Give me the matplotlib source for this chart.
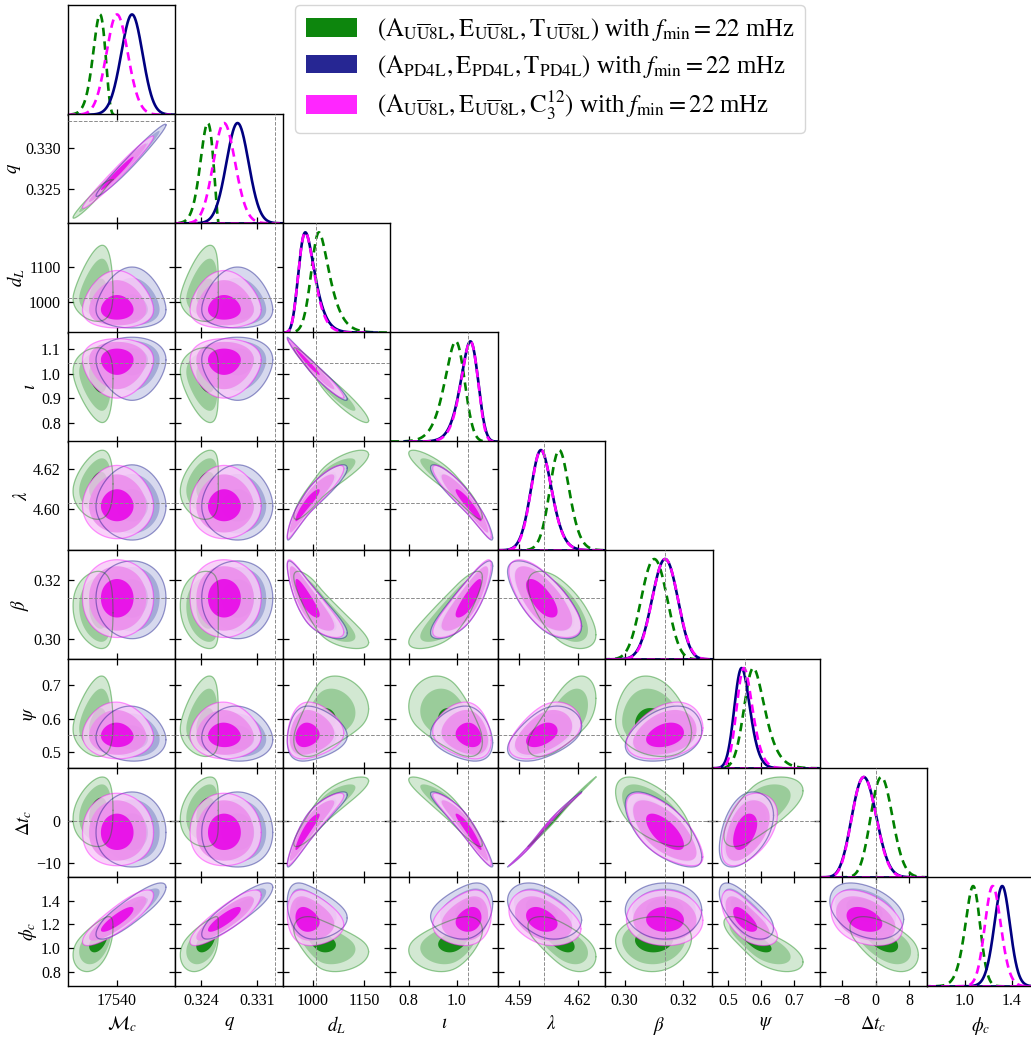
import matplotlib
matplotlib.use('Agg')
import matplotlib.pyplot as plt
from matplotlib.patches import Patch
import numpy as np

plt.rcParams['font.family'] = ['Liberation Serif', 'DejaVu Serif']
plt.rcParams['mathtext.fontset'] = 'stix'

W, H = 1031, 1039

names = [r'$\mathcal{M}_c$', r'$q$', r'$d_L$', r'$\iota$', r'$\lambda$', r'$\beta$', r'$\psi$', r'$\Delta t_c$', r'$\phi_c$']

# axis limits of each parameter
lim_lo = [17491, 0.32079, 912.9, 0.722, 4.5792, 0.2933, 0.4517, -13.3, 0.676]
lim_hi = [17598.5, 0.33421, 1224.6, 1.170, 4.6339, 0.32995, 0.7789, 12.3, 1.6]

# injected values, None where no line is drawn
truth = [None, 0.33329, 1010.5, 1.045, 4.603, 0.3137, 0.55, 0.0, None]

xticks = [[17540], [0.324, 0.331], [1000, 1150], [0.8, 1.0], [4.59, 4.62], [0.30, 0.32], [0.5, 0.6, 0.7], [-8, 0, 8], [1.0, 1.4]]
xticklabels = [['17540'], ['0.324', '0.331'], ['1000', '1150'], ['0.8', '1.0'], ['4.59', '4.62'], ['0.30', '0.32'], ['0.5', '0.6', '0.7'], ['\u22128', '0', '8'], ['1.0', '1.4']]
yticks = [[], [0.325, 0.330], [1000, 1100], [0.8, 0.9, 1.0, 1.1], [4.60, 4.62], [0.30, 0.32], [0.5, 0.6, 0.7], [-10, 0], [0.8, 1.0, 1.2, 1.4]]
yticklabels = [[], ['0.325', '0.330'], ['1000', '1100'], ['0.8', '0.9', '1.0', '1.1'], ['4.60', '4.62'], ['0.30', '0.32'], ['0.5', '0.6', '0.7'], ['\u221210', '0'], ['0.8', '1.0', '1.2', '1.4']]

# peak, width and outer contour extent of each parameter, read per series
mode_green = [17523.3, 0.32484, 1018, 0.996, 4.6106, 0.3101, 0.5765, 1.36, 1.07]
sd_green = [6.2, 0.00085, 22, 0.038, 0.0047, 0.0046, 0.028, 2.6, 0.06]
low_green = [17496.3, 0.32141, 945, 0.80, 4.5947, 0.2969, 0.487, -6.1, 0.80]
high_green = [17536.3, 0.32616, 1162, 1.107, 4.6293, 0.3228, 0.728, 10.2, 1.265]

mode_blue = [17555.3, 0.32856, 978.5, 1.057, 4.6013, 0.3138, 0.541, -2.8, 1.32]
sd_blue = [10.6, 0.00138, 21.5, 0.034, 0.005, 0.0045, 0.0226, 3.0, 0.065]
low_blue = [17519.3, 0.32409, 926, 0.891, 4.5843, 0.3002, 0.473, -10.9, 1.075]
high_blue = [17589.3, 0.33296, 1100, 1.15, 4.622, 0.3263, 0.638, 6.7, 1.55]

mode_magenta = [17540.3, 0.32688, 978.5, 1.057, 4.6013, 0.3138, 0.548, -2.8, 1.238]
sd_magenta = [10.7, 0.00135, 21.5, 0.034, 0.005, 0.0045, 0.0226, 3.0, 0.067]
low_magenta = [17505.8, 0.32263, 926, 0.90, 4.585, 0.3006, 0.48, -10.6, 1.02]
high_magenta = [17576.8, 0.3315, 1090, 1.144, 4.6217, 0.3267, 0.65, 6.4, 1.49]

# tilt of each panel, lower triangle by row
corr_green = [[0.98], [0.12, 0.12], [-0.12, -0.12, -0.97], [0.12, 0.12, 0.90, -0.93],
              [-0.08, -0.08, -0.83, 0.82, -0.62], [0.08, 0.08, 0.45, -0.50, 0.65, -0.20],
              [0.12, 0.12, 0.90, -0.93, 0.999, -0.62, 0.65],
              [0.55, 0.55, -0.45, 0.40, -0.60, 0.05, -0.75, -0.55]]
corr_blue = [[0.98], [0.0, 0.0], [0.0, 0.0, -0.98], [0.0, 0.0, 0.93, -0.94],
             [0.0, 0.0, -0.85, 0.84, -0.68], [-0.05, -0.05, 0.10, -0.18, 0.45, 0.30],
             [0.0, 0.0, 0.93, -0.95, 0.999, -0.68, 0.42],
             [0.85, 0.85, -0.30, 0.25, -0.38, 0.0, -0.65, -0.35]]
corr_magenta = [[0.98], [0.0, 0.0], [0.0, 0.0, -0.98], [0.0, 0.0, 0.93, -0.94],
                [0.0, 0.0, -0.85, 0.84, -0.68], [-0.03, -0.03, 0.12, -0.18, 0.45, 0.30],
                [0.0, 0.0, 0.93, -0.95, 0.999, -0.68, 0.45],
                [0.85, 0.85, -0.20, 0.20, -0.35, -0.02, -0.65, -0.35]]

series = [
    dict(mode=mode_green, sd=sd_green, low=low_green, high=high_green, corr=corr_green,
         fills=['#cae4ca', '#91c891', '#008000'], edge='#008000', line='green', ls=(0, (3.2, 2))),
    dict(mode=mode_blue, sd=sd_blue, low=low_blue, high=high_blue, corr=corr_blue,
         fills=['#d0d3eb', '#9ca2d3', '#19198c'], edge='#000080', line='navy', ls='-'),
    dict(mode=mode_magenta, sd=sd_magenta, low=low_magenta, high=high_magenta, corr=corr_magenta,
         fills=['#f9caf9', '#ec8bec', '#e800e8'], edge='#ff00ff', line='magenta', ls=(0, (3.2, 2))),
]

radii = [3.2, 2.6, 1.5]
R = radii[0]


def to_value(z, s, i):
    # z is in units of the peak width, stretched so z=+-R lands on the read extent
    m, sd = s['mode'][i], s['sd'][i]
    k_hi = (s['high'][i] - m) / (sd * R)
    k_lo = (m - s['low'][i]) / (sd * R)
    k = np.where(z > 0, k_hi, k_lo)
    return m + sd * z * (1 + (k - 1) * np.abs(z) / R)


def outline(s, ix, iy, r):
    t = np.linspace(0, 2 * np.pi, 240)
    rho = s['corr'][iy - 1][ix]
    zx = r * np.cos(t)
    zy = r * (rho * np.cos(t) + np.sqrt(1 - rho ** 2) * np.sin(t))
    return to_value(zx, s, ix), to_value(zy, s, iy)


# panel edges in pixels
left = [67.7, 175.3, 282.7, 390, 497.5, 605, 712.3, 819.7, 927.3]
top = [5.4, 114, 223.3, 332.3, 441, 550, 659, 768, 877]
pw, ph = 107.5, 109.3

fig = plt.figure(figsize=(W / 100, H / 100), dpi=100)
n = len(names)

for row in range(n):
    for col in range(row + 1):
        ax = fig.add_axes([left[col] / W, 1 - (top[row] + ph) / H, pw / W, ph / H])
        ax.set_xlim(lim_lo[col], lim_hi[col])
        ax.set_xticks(xticks[col])
        if row == col:
            z = np.linspace(-4.6, 4.6, 300)
            for s in series:
                ax.plot(to_value(z, s, col), np.exp(-z ** 2 / 2), color=s['line'], ls=s['ls'], lw=1.9)
                ax.plot([lim_lo[col], lim_hi[col]], [0, 0], color=s['line'], ls=s['ls'], lw=1.9)
            ax.set_ylim(0, 1.09)
            ax.set_yticks([])
            ax.tick_params(direction='in', length=4.5, width=0.9, top=False, right=False, left=False)
        else:
            ax.set_ylim(lim_lo[row], lim_hi[row])
            ax.set_yticks(yticks[row])
            ax.tick_params(direction='in', length=4.5, width=0.9, top=True, right=True)
            for s in series:
                for r, c in zip(radii, s['fills']):
                    x, y = outline(s, col, row, r)
                    ax.fill(x, y, color=c, alpha=0.85, lw=0, zorder=2)
            for s in series:
                x, y = outline(s, col, row, R)
                ax.plot(x, y, color=s['edge'], alpha=0.4, lw=0.9, zorder=3)
            if truth[row] is not None:
                ax.axhline(truth[row], color='#8c8c8c', ls='--', lw=0.7, zorder=4)
        if truth[col] is not None:
            ax.axvline(truth[col], color='#8c8c8c', ls='--', lw=0.7, zorder=4)
        for sp in ax.spines.values():
            sp.set_linewidth(1.0)
        if row == n - 1:
            ax.set_xticklabels(xticklabels[col], fontsize=11.5)
            ax.set_xlabel(names[col], fontsize=13.5)
            ax.xaxis.set_label_coords(0.5, -0.26)
            ax.tick_params(axis='x', pad=5)
        else:
            ax.set_xticklabels([])
        if col == 0 and row > 0:
            ax.set_yticklabels(yticklabels[row], fontsize=11.5)
            ax.set_ylabel(names[row], fontsize=13.5, labelpad=1.5)
            ax.tick_params(axis='y', pad=5)
        elif row != col:
            ax.set_yticklabels([])

handles = [Patch(facecolor='green', alpha=0.95), Patch(facecolor='navy', alpha=0.85), Patch(facecolor='magenta', alpha=0.85)]
labels = [r'$(\mathrm{A_{U\overline{U}8L},E_{U\overline{U}8L},T_{U\overline{U}8L}})$ with $f_{\mathrm{min}}=22$ mHz',
          r'$(\mathrm{A_{PD4L},E_{PD4L},T_{PD4L}})$ with $f_{\mathrm{min}}=22$ mHz',
          r'$(\mathrm{A_{U\overline{U}8L},E_{U\overline{U}8L},C_3^{12}})$ with $f_{\mathrm{min}}=22$ mHz']
fig.legend(handles, labels, loc='upper left', bbox_to_anchor=(295 / W, 1 - 5 / H), fontsize=17.8,
           handlelength=2.05, handleheight=0.77, labelspacing=0.38, handletextpad=0.8, borderpad=0.45,
           borderaxespad=0, framealpha=0.8)

fig.savefig('out.png', dpi=100)
